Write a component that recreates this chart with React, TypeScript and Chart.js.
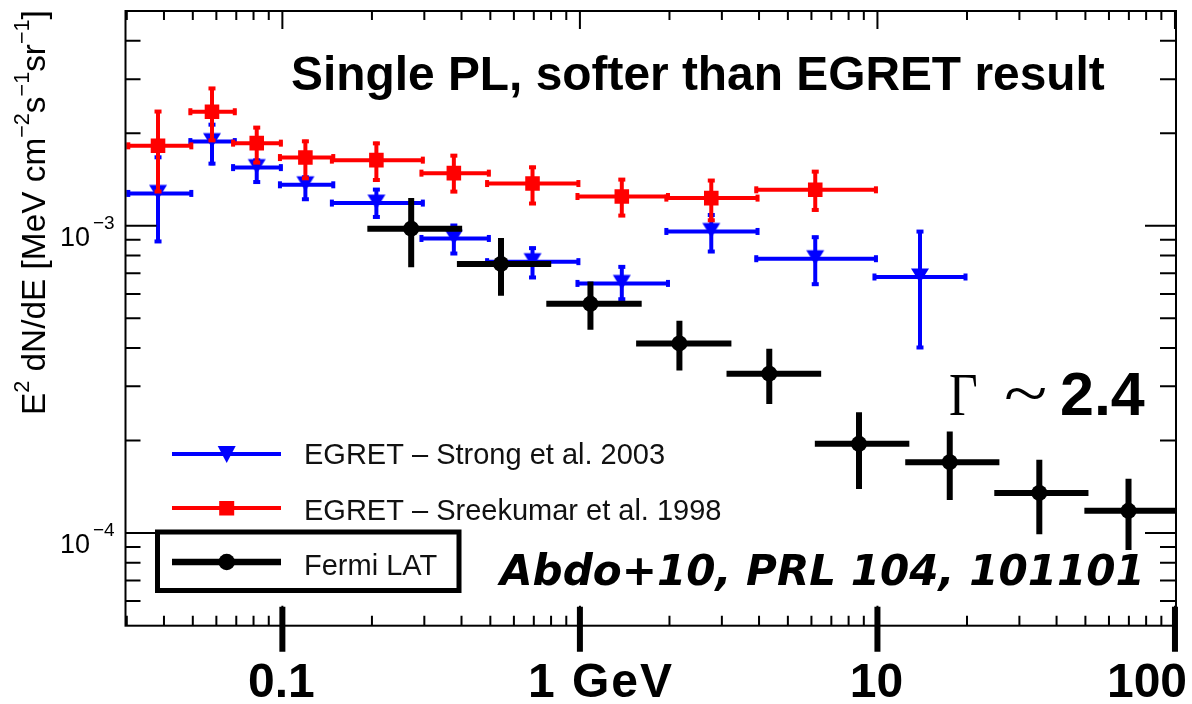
import React, { useEffect, useRef } from "react";
import { Chart, registerables } from "chart.js";

Chart.register(...registerables);

// ---------------- Data (E in GeV, E^2 dN/dE in MeV cm^-2 s^-1 sr^-1) ----------------
// Fermi LAT (Abdo+10)
const fermiE = [0.271, 0.543, 1.085, 2.16, 4.33, 8.67, 17.5, 35.0, 69.8];
const fermiELo = [0.193, 0.386, 0.771, 1.545, 3.11, 6.16, 12.4, 24.7, 49.6];
const fermiEHi = [0.402, 0.801, 1.613, 3.23, 6.47, 12.8, 25.7, 51.2, 102.4];
const fermiFlux = [9.78e-4, 7.51e-4, 5.57e-4, 4.14e-4, 3.3e-4, 1.95e-4, 1.7e-4, 1.35e-4, 1.18e-4];
const fermiFluxLo = [7.32e-4, 5.92e-4, 4.59e-4, 3.38e-4, 2.63e-4, 1.39e-4, 1.28e-4, 0.99e-4, 0.88e-4];
const fermiFluxHi = [1.23e-3, 9.12e-4, 6.59e-4, 4.91e-4, 3.98e-4, 2.47e-4, 2.14e-4, 1.73e-4, 1.5e-4];

// EGRET energy bins (shared)
const egretE = [0.0382, 0.058, 0.082, 0.1195, 0.207, 0.377, 0.693, 1.383, 2.764, 6.18];
const egretELo = [0.03, 0.0485, 0.0675, 0.097, 0.145, 0.29, 0.482, 0.97, 1.93, 3.87];
const egretEHi = [0.05, 0.07, 0.1, 0.15, 0.3, 0.5, 1, 2, 4, 10];

// EGRET - Sreekumar et al. 1998
const sreekFlux = [1.82e-3, 2.35e-3, 1.857e-3, 1.667e-3, 1.635e-3, 1.483e-3, 1.372e-3, 1.245e-3, 1.23e-3, 1.309e-3];
const sreekFluxLo = [1.278e-3, 1.875e-3, 1.587e-3, 1.411e-3, 1.393e-3, 1.277e-3, 1.168e-3, 1.067e-3, 1.03e-3, 1.113e-3];
const sreekFluxHi = [2.38e-3, 2.83e-3, 2.11e-3, 1.904e-3, 1.875e-3, 1.71e-3, 1.567e-3, 1.429e-3, 1.419e-3, 1.517e-3];

// EGRET - Strong et al. 2003 (one extra bin 10-20 GeV)
const strongE = [...egretE, 13.9];
const strongELo = [...egretELo, 9.66];
const strongEHi = [...egretEHi, 20];
const strongFlux = [1.274e-3, 1.879e-3, 1.546e-3, 1.359e-3, 1.185e-3, 9.09e-4, 7.64e-4, 6.49e-4, 9.58e-4, 7.81e-4, 6.81e-4];
const strongFluxLo = [8.79e-4, 1.575e-3, 1.372e-3, 1.206e-3, 1.056e-3, 8.03e-4, 6.71e-4, 5.7e-4, 8.15e-4, 6.38e-4, 3.97e-4];
const strongFluxHi = [1.689e-3, 2.157e-3, 1.651e-3, 1.454e-3, 1.326e-3, 1.013e-3, 8.55e-4, 7.43e-4, 1.096e-3, 9.28e-4, 9.68e-4];

// Axes
const X_MIN = 0.0297;
const X_MAX = 100.8;
const Y_MIN = 4.99e-5;
const Y_MAX = 5.0e-3;
const xMajorTicks = [0.1, 1, 10, 100];
const xTickLabels = ["0.1", "1 GeV", "10", "100"];
const yMajorTicks = [1e-4, 1e-3];
const yTickExponents = ["\u22124", "\u22123"];
const minorMultipliers = [2, 3, 4, 5, 6, 7, 8, 9];
const decades = [1e-6, 1e-5, 1e-4, 1e-3, 1e-2, 1e-1, 1, 10, 100];

// Texts
const titleText = "Single PL, softer than EGRET result";
const gammaSymbol = "\u0393";
const gammaTilde = "~";
const gammaValue = "2.4";
const refText = "Abdo+10, PRL 104, 101101";
const legendLabels = ["EGRET \u2013 Strong et al. 2003", "EGRET \u2013 Sreekumar et al. 1998", "Fermi LAT"];
const yTitleParts: [string, boolean][] = [
  ["E", false], ["2", true], [" dN/dE [MeV cm", false], ["\u22122", true], ["s", false],
  ["\u22121", true], ["sr", false], ["\u22121", true], ["]", false],
];

const RED = "#ff0000";
const BLUE = "#0000ff";
const BLACK = "#000000";

const SANS = '"Liberation Sans", Arial, sans-serif';
const SERIF = '"Liberation Serif", "Times New Roman", serif';

// error bar sets indexed by dataset index
const errorSets = [
  { x: fermiE, xLo: fermiELo, xHi: fermiEHi, y: fermiFlux, yLo: fermiFluxLo, yHi: fermiFluxHi, color: BLACK, width: 6, cap: false },
  { x: egretE, xLo: egretELo, xHi: egretEHi, y: sreekFlux, yLo: sreekFluxLo, yHi: sreekFluxHi, color: RED, width: 4, cap: true },
  { x: strongE, xLo: strongELo, xHi: strongEHi, y: strongFlux, yLo: strongFluxLo, yHi: strongFluxHi, color: BLUE, width: 4, cap: true },
];

function makeTriangleDown(color: string, w: number, up: number, down: number) {
  const size = 28;
  const c = document.createElement("canvas");
  c.width = size;
  c.height = size;
  const g = c.getContext("2d")!;
  const m = size / 2;
  g.fillStyle = color;
  g.beginPath();
  g.moveTo(m - w / 2, m - up);
  g.lineTo(m + w / 2, m - up);
  g.lineTo(m, m + down);
  g.closePath();
  g.fill();
  return c;
}

const errorBarPlugin = {
  id: "errorBars",
  beforeDatasetDraw(chart: any, args: any) {
    const set = errorSets[args.index];
    if (!set) return;
    const { ctx, chartArea: a } = chart;
    const xs = chart.scales.x;
    const ys = chart.scales.y;
    ctx.save();
    ctx.beginPath();
    ctx.rect(a.left, a.top, a.right - a.left, a.bottom - a.top);
    ctx.clip();
    ctx.strokeStyle = set.color;
    ctx.fillStyle = set.color;
    ctx.lineWidth = set.width;
    ctx.lineCap = "butt";
    for (let i = 0; i < set.x.length; i++) {
      const cx = xs.getPixelForValue(set.x[i]);
      const cy = ys.getPixelForValue(set.y[i]);
      const xl = xs.getPixelForValue(set.xLo[i]);
      const xh = xs.getPixelForValue(set.xHi[i]);
      const yl = ys.getPixelForValue(set.yLo[i]);
      const yh = ys.getPixelForValue(set.yHi[i]);
      ctx.beginPath();
      ctx.moveTo(xl, cy);
      ctx.lineTo(xh, cy);
      ctx.moveTo(cx, yh);
      ctx.lineTo(cx, yl);
      ctx.stroke();
      if (set.cap) {
        ctx.fillRect(xl - 0.5, cy - 3.5, 4, 7);
        ctx.fillRect(xh - 3.5, cy - 3.5, 4, 7);
        ctx.fillRect(cx - 3.5, yh - 0.5, 7, 4);
        ctx.fillRect(cx - 3.5, yl - 3.5, 7, 4);
      }
    }
    ctx.restore();
  },
};

function fitFont(ctx: CanvasRenderingContext2D, text: string, style: string, family: string, target: number) {
  ctx.font = `${style} 40px ${family}`;
  const w = ctx.measureText(text).width;
  const size = (40 * target) / w;
  ctx.font = `${style} ${size}px ${family}`;
}

const decorPlugin = {
  id: "decor",
  afterDraw(chart: any) {
    const { ctx, chartArea: a } = chart;
    const xs = chart.scales.x;
    const ys = chart.scales.y;
    ctx.save();
    ctx.strokeStyle = BLACK;
    ctx.fillStyle = BLACK;
    ctx.lineCap = "butt";

    // frame
    ctx.lineWidth = 2;
    ctx.strokeRect(a.left, a.top, a.right - a.left, a.bottom - a.top);

    // ticks
    ctx.beginPath();
    for (const d of decades) {
      for (const m of minorMultipliers) {
        const v = d * m;
        if (v > X_MIN && v < X_MAX) {
          const p = xs.getPixelForValue(v);
          if (p > a.left + 1 && p < a.right - 1) {
            ctx.moveTo(p, a.bottom);
            ctx.lineTo(p, a.bottom - 10);
            ctx.moveTo(p, a.top);
            ctx.lineTo(p, a.top + 9);
          }
        }
        if (v > Y_MIN && v < Y_MAX) {
          const p = ys.getPixelForValue(v);
          if (p > a.top + 1 && p < a.bottom - 1) {
            ctx.moveTo(a.left, p);
            ctx.lineTo(a.left + 15, p);
            ctx.moveTo(a.right, p);
            ctx.lineTo(a.right - 16, p);
          }
        }
      }
    }
    for (const v of xMajorTicks) {
      const p = xs.getPixelForValue(v);
      ctx.moveTo(p, a.bottom);
      ctx.lineTo(p, a.bottom - 20);
      ctx.moveTo(p, a.top);
      ctx.lineTo(p, a.top + 18);
    }
    for (const v of yMajorTicks) {
      const p = ys.getPixelForValue(v);
      ctx.moveTo(a.left, p);
      ctx.lineTo(a.left + 31, p);
      ctx.moveTo(a.right, p);
      ctx.lineTo(a.right - 31, p);
    }
    ctx.stroke();

    // thick decade markers on the bottom axis
    ctx.lineWidth = 6;
    ctx.beginPath();
    for (const v of xMajorTicks) {
      const p = xs.getPixelForValue(v);
      ctx.moveTo(p, a.bottom - 19);
      ctx.lineTo(p, a.bottom + 26);
    }
    ctx.stroke();

    // x tick labels
    ctx.textBaseline = "alphabetic";
    ctx.font = `bold 48px ${SANS}`;
    const lblY = 697;
    xTickLabels.forEach((t, i) => {
      const p = xs.getPixelForValue(xMajorTicks[i]);
      if (i === 1) {
        ctx.textAlign = "left";
        (ctx as any).letterSpacing = "2px";
        ctx.fillText(t, p - 52, lblY);
        (ctx as any).letterSpacing = "0px";
      } else if (i === 3) {
        ctx.textAlign = "left";
        ctx.fillText(t, p - 68, lblY);
      } else {
        ctx.textAlign = "center";
        ctx.fillText(t, p - 1, lblY);
      }
    });

    // y tick labels (10^-n)
    yMajorTicks.forEach((v, i) => {
      const p = ys.getPixelForValue(v);
      ctx.textAlign = "left";
      ctx.font = `27px ${SANS}`;
      ctx.fillText("10", 60, p + 20);
      ctx.font = `19px ${SANS}`;
      ctx.fillText(yTickExponents[i], 93, p + 3);
    });

    // y-axis title, rotated
    {
      const base = 34;
      const sup = 22;
      const measure = (b: number, s: number) => {
        let w = 0;
        for (const [t, isSup] of yTitleParts) {
          ctx.font = `${isSup ? s : b}px ${SANS}`;
          w += ctx.measureText(t).width;
        }
        return w;
      };
      const w0 = measure(base, sup);
      const k = 405 / w0;
      const b = base * k;
      const s = sup * k;
      ctx.save();
      ctx.translate(45, 212.5);
      ctx.rotate(-Math.PI / 2);
      ctx.textAlign = "left";
      let x = -202.5;
      for (const [t, isSup] of yTitleParts) {
        ctx.font = `${isSup ? s : b}px ${SANS}`;
        ctx.fillText(t, x, isSup ? -16 : 0);
        x += ctx.measureText(t).width;
      }
      ctx.restore();
    }

    // title
    ctx.textAlign = "left";
    fitFont(ctx, titleText, "bold", SANS, 814);
    ctx.fillText(titleText, 291, 90);

    // Gamma ~ 2.4
    ctx.save();
    ctx.translate(949, 415);
    ctx.scale(0.8, 1);
    ctx.font = `62px ${SERIF}`;
    ctx.fillText(gammaSymbol, 0, 0);
    ctx.restore();
    ctx.save();
    ctx.translate(1004, 415);
    ctx.scale(1.25, 1);
    ctx.font = `64px ${SERIF}`;
    ctx.fillText(gammaTilde, 0, 0);
    ctx.restore();
    ctx.font = `bold 61px ${SANS}`;
    ctx.fillText(gammaValue, 1060, 415);

    // reference text
    fitFont(ctx, refText, "italic bold", '"DejaVu Sans", sans-serif', 645);
    ctx.fillText(refText, 500, 585);

    // legend
    const lx0 = 172;
    const lx1 = 281;
    const mx = 226.7;
    ctx.lineWidth = 4;
    ctx.strokeStyle = BLUE;
    ctx.fillStyle = BLUE;
    ctx.beginPath();
    ctx.moveTo(lx0, 454);
    ctx.lineTo(lx1, 454);
    ctx.stroke();
    ctx.beginPath();
    ctx.moveTo(mx - 9, 446);
    ctx.lineTo(mx + 9, 446);
    ctx.lineTo(mx, 463);
    ctx.closePath();
    ctx.fill();

    ctx.strokeStyle = RED;
    ctx.fillStyle = RED;
    ctx.beginPath();
    ctx.moveTo(lx0, 508);
    ctx.lineTo(lx1, 508);
    ctx.stroke();
    ctx.fillRect(mx - 7.5, 501, 15, 14.5);

    ctx.strokeStyle = BLACK;
    ctx.fillStyle = BLACK;
    ctx.lineWidth = 6.5;
    ctx.beginPath();
    ctx.moveTo(lx0, 562);
    ctx.lineTo(lx1, 562);
    ctx.stroke();
    ctx.beginPath();
    ctx.arc(mx, 562, 8.3, 0, Math.PI * 2);
    ctx.fill();

    ctx.lineWidth = 5;
    ctx.strokeRect(157.5, 532, 301.5, 58.5);

    ctx.fillStyle = "#111";
    ctx.font = `29px ${SANS}`;
    ctx.textAlign = "left";
    ctx.fillText(legendLabels[0], 304, 463.5);
    ctx.fillText(legendLabels[1], 304, 520);
    ctx.fillText(legendLabels[2], 304, 575);

    ctx.restore();
  },
};

export default function App() {
  const ref = useRef<HTMLCanvasElement>(null);

  useEffect(() => {
    const canvas = ref.current;
    if (!canvas) return;
    const tri = makeTriangleDown(BLUE, 18, 8.5, 6);
    const chart = new Chart(canvas, {
      type: "scatter",
      data: {
        datasets: [
          {
            label: legendLabels[2],
            data: fermiE.map((x, i) => ({ x, y: fermiFlux[i] })),
            pointStyle: "circle",
            pointRadius: 8,
            pointBackgroundColor: BLACK,
            pointBorderColor: BLACK,
            pointBorderWidth: 0,
            showLine: false,
          },
          {
            label: legendLabels[1],
            data: egretE.map((x, i) => ({ x, y: sreekFlux[i] })),
            pointStyle: "rect",
            pointRadius: 10.3,
            pointBackgroundColor: RED,
            pointBorderColor: RED,
            pointBorderWidth: 0,
            showLine: false,
          },
          {
            label: legendLabels[0],
            data: strongE.map((x, i) => ({ x, y: strongFlux[i] })),
            pointStyle: tri as any,
            pointRadius: 10,
            pointBackgroundColor: BLUE,
            pointBorderColor: BLUE,
            showLine: false,
          },
        ],
      },
      options: {
        animation: false,
        responsive: false,
        devicePixelRatio: 1,
        events: [],
        layout: { padding: { top: 9.5, right: 16, left: 0, bottom: 0 } },
        plugins: {
          legend: { display: false },
          tooltip: { enabled: false },
          title: { display: false },
        },
        scales: {
          x: {
            type: "logarithmic",
            min: X_MIN,
            max: X_MAX,
            grid: { display: false },
            border: { display: false },
            ticks: { display: false },
            afterFit: (s: any) => {
              s.height = 704 - 625.7;
            },
          },
          y: {
            type: "logarithmic",
            min: Y_MIN,
            max: Y_MAX,
            grid: { display: false },
            border: { display: false },
            ticks: { display: false },
            afterFit: (s: any) => {
              s.width = 125.5;
            },
          },
        },
      },
      plugins: [errorBarPlugin, decorPlugin],
    } as any);
    return () => chart.destroy();
  }, []);

  return (
    <div style={{ position: "absolute", left: 0, top: 0, width: 1192, height: 704, background: "#ffffff" }}>
      <canvas ref={ref} width={1192} height={704} style={{ display: "block", width: 1192, height: 704 }} />
    </div>
  );
}
